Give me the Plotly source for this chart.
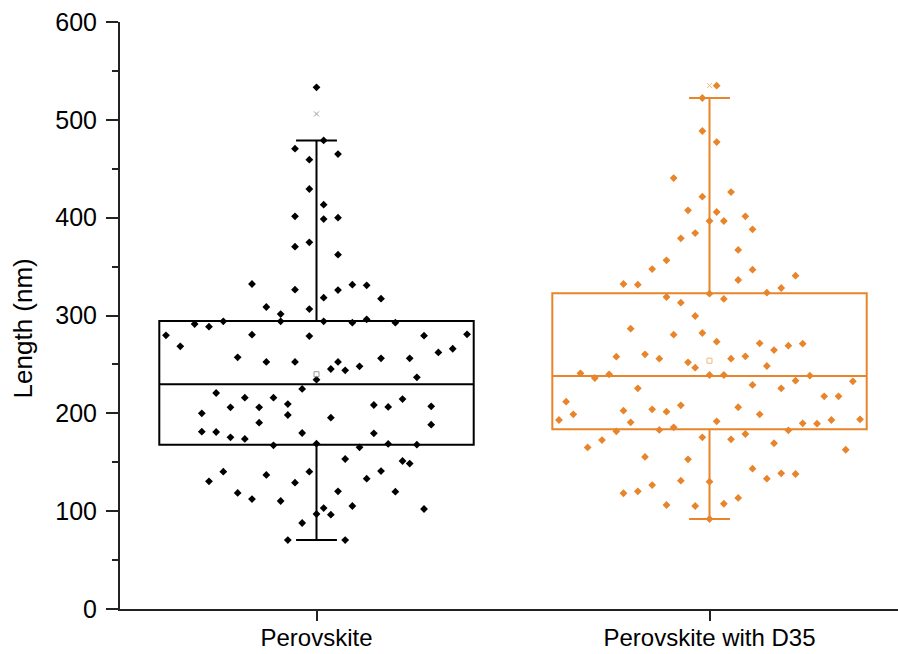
import plotly.graph_objects as go

# Category labels
groups = ["Perovskite", "Perovskite with D35"]

# Measured lengths (nm) and their horizontal column slot in the swarm
pero_len = [533.2, 479.0, 470.5, 465.0, 459.3, 429.3, 413.3, 401.4, 398.6, 400.0,
            374.8, 370.3, 362.2, 332.2, 326.4, 308.7, 301.5, 306.6, 318.2, 326.0,
            331.5, 330.8, 317.2, 291.3, 288.6, 294.0, 294.0, 294.0, 292.7, 296.1,
            292.7, 279.7, 280.4, 279.0, 279.4, 280.8, 268.5, 266.0, 262.3, 257.2,
            252.5, 252.5, 252.5, 245.3, 244.0, 248.0, 256.2, 256.2, 236.8, 234.4,
            224.9, 220.8, 216.0, 216.0, 206.1, 206.1, 209.5, 200.0, 198.3, 195.6,
            208.5, 206.5, 214.6, 207.2, 190.5, 188.4, 181.3, 180.9, 175.5, 173.8,
            179.9, 179.6, 167.3, 169.0, 165.3, 168.7, 168.0, 153.3, 151.3, 148.6,
            130.5, 140.4, 137.0, 140.4, 129.1, 118.6, 112.4, 110.4, 120.3, 133.2,
            141.0, 119.9, 105.3, 103.2, 97.1, 96.4, 87.9, 102.2, 70.5, 70.5]
pero_slot = [0, 1, -3, 3, -1, -1, 1, -3, 1, 3,
             -1, -3, 3, -9, -3, -7, -5, -1, 1, 3,
             5, 7, 9, -17, -15, -13, -5, 1, 5, 7,
             11, -21, -9, -1, 15, 21, -19, 19, 17, -11,
             -7, -3, 3, 2, 4, 6, 9, 13, 14, 0,
             -2, -14, -10, -6, -12, -8, -4, -16, -4, 2,
             8, 10, 12, 16, -8, 16, -16, -14, -12, -10,
             -2, 8, -6, 0, 6, 10, 14, 4, 12, 13,
             -15, -13, -7, -1, -3, -11, -9, -5, 3, 7,
             9, 11, 5, 1, 0, 2, -2, 15, -4, 4]

d35_len = [534.9, 522.3, 488.6, 477.3, 440.5, 426.2, 421.5, 407.5, 405.8, 396.6,
           396.6, 401.4, 388.1, 384.3, 378.9, 367.0, 356.4, 347.5, 346.8, 332.2,
           331.5, 336.3, 340.7, 328.1, 323.3, 322.3, 318.9, 313.1, 316.9, 299.5,
           286.5, 280.4, 282.1, 273.2, 271.6, 264.7, 269.2, 271.2, 257.9, 260.3,
           255.9, 252.1, 246.7, 255.9, 258.3, 248.4, 240.9, 236.1, 239.9, 239.2,
           239.2, 238.5, 225.6, 229.0, 225.6, 233.4, 232.7, 211.9, 199.0, 193.2,
           202.7, 190.8, 204.1, 201.7, 208.2, 185.7, 183.0, 191.8, 206.2, 199.0,
           217.4, 217.4, 189.8, 189.4, 193.2, 193.9, 181.6, 182.6, 172.7, 165.2,
           175.5, 173.4, 178.9, 169.4, 162.8, 155.4, 153.0, 118.3, 120.3, 126.7,
           106.3, 131.2, 105.3, 130.1, 107.6, 113.5, 143.4, 133.2, 138.7, 138.0,
           92.0]
d35_slot = [1, -1, -1, 1, -5, 3, -1, -3, 1, 0,
            2, 5, 6, -2, -4, 4, -6, -8, 6, -12,
            -10, 4, 12, 10, 8, 0, -6, -4, 2, -2,
            -11, -5, -1, 1, 7, 9, 11, 13, -13, -9,
            -7, -3, -2, 3, 5, 8, -18, -16, -14, 0,
            2, 14, -10, 6, 10, 12, 20, -20, -19, -21,
            -12, -11, -8, -6, -4, -5, -7, 1, 4, 7,
            16, 18, 13, 15, 17, 21, -13, 11, -15, -17,
            -1, 3, 5, 9, 19, -9, -3, -12, -10, -8,
            -6, -4, -2, 0, 2, 4, 6, 8, 10, 12,
            0]

# Box statistics: Q1, median, Q3, whisker ends, mean, top marker
q1 = [168.0, 183.7]
median = [229.7, 238.2]
q3 = [294.3, 322.7]
lower = [70.5, 92.0]
upper = [479.0, 522.3]
mean = [240.0, 253.8]
top_mark = [506.0, 535.0]

colors = ["#000000", "#E8842A"]
faint = ["#9a9a9a", "#F2B680"]
SLOT = 0.01824  # horizontal spacing of swarm columns (category units)

fig = go.Figure()

series = [(pero_len, pero_slot), (d35_len, d35_slot)]
for i, (vals, slots) in enumerate(series):
    fig.add_trace(go.Box(
        x=[i], q1=[q1[i]], median=[median[i]], q3=[q3[i]],
        lowerfence=[lower[i]], upperfence=[upper[i]],
        width=0.8, whiskerwidth=0.13,
        line=dict(color=colors[i], width=2),
        fillcolor="rgba(0,0,0,0)", boxpoints=False, hoverinfo="skip",
        showlegend=False,
    ))
    fig.add_trace(go.Scatter(
        x=[i], y=[top_mark[i]], mode="markers",
        marker=dict(symbol="x-thin-open", size=5, color=faint[i],
                    line=dict(width=1, color=faint[i])),
        showlegend=False,
    ))
    fig.add_trace(go.Scatter(
        x=[i + s * SLOT for s in slots], y=vals, mode="markers",
        marker=dict(symbol="diamond", size=6, color=colors[i]),
        showlegend=False,
    ))
    fig.add_trace(go.Scatter(
        x=[i], y=[mean[i]], mode="markers",
        marker=dict(symbol="square-open", size=5, color=faint[i],
                    line=dict(width=1)),
        showlegend=False,
    ))

axis_font = dict(family="Liberation Sans, Arial, sans-serif", size=25, color="#000")

fig.update_layout(
    width=898, height=654,
    margin=dict(l=120, r=0, t=22, b=45),
    paper_bgcolor="white", plot_bgcolor="white",
    font=axis_font,
    xaxis=dict(
        range=[-0.5, 1.4796], tickmode="array", tickvals=[0, 1], ticktext=groups,
        ticks="outside", ticklen=10, tickwidth=2, tickcolor="#222",
        showline=True, linecolor="#222", linewidth=2, showgrid=False,
        zeroline=False, tickfont=dict(size=24), ticklabelstandoff=-4,
        automargin=False,
    ),
    yaxis=dict(
        range=[0, 600], tickmode="linear", tick0=0, dtick=100,
        ticks="outside", ticklen=12, tickwidth=2, tickcolor="#222",
        minor=dict(dtick=50, ticks="outside", ticklen=6, tickwidth=2, tickcolor="#222"),
        showline=True, linecolor="#222", linewidth=2, showgrid=False,
        zeroline=False, tickfont=dict(size=25), ticklabelstandoff=4,
        automargin=False,
    ),
    annotations=[dict(
        text="Length (nm)", textangle=-90, showarrow=False,
        xref="paper", yref="paper", x=0, y=0.478, xanchor="center", yanchor="middle",
        xshift=-97, font=dict(size=26),
    )],
)

fig.write_html("out.html")
